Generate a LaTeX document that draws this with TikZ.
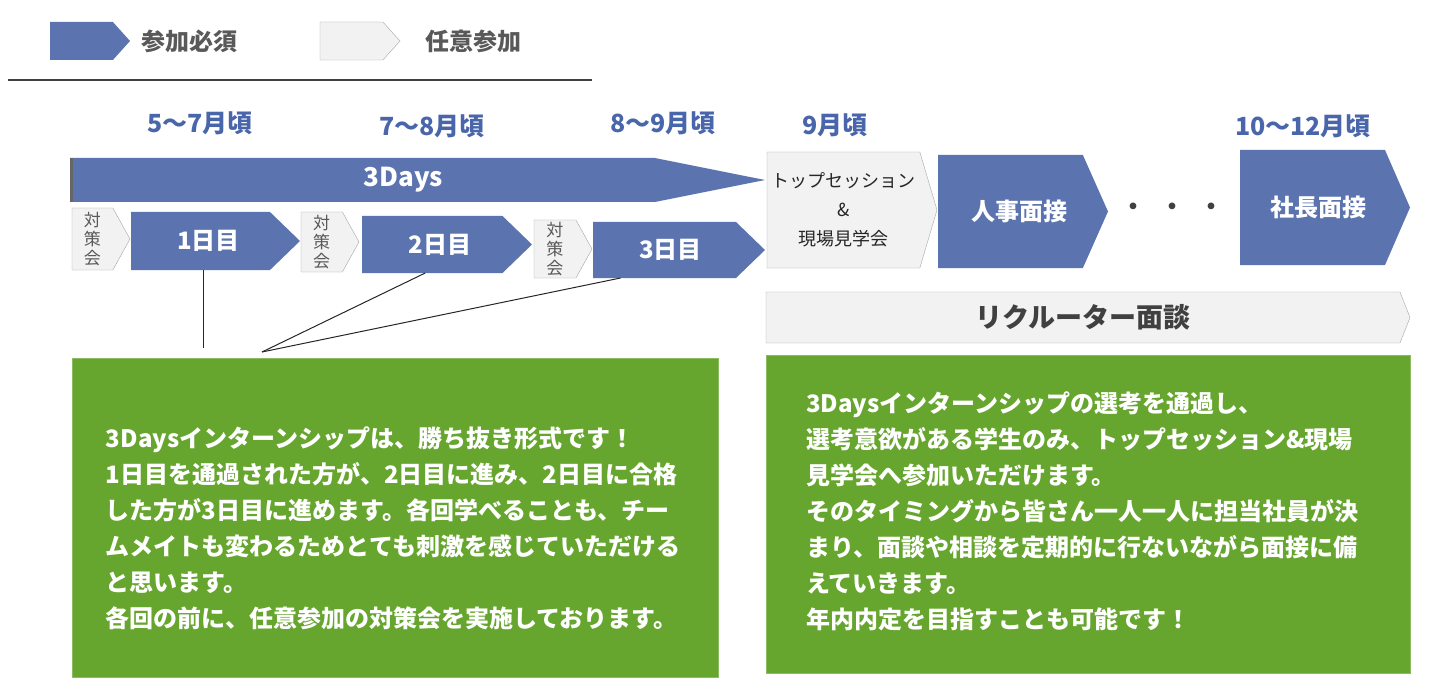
\documentclass[tikz,border=0pt]{standalone}
\usepackage{fontspec}
\setmainfont{Noto Sans CJK JP}
\usepackage{xcolor}
\usepackage{tikz}
\usetikzlibrary{shapes.symbols, positioning}

\definecolor{mustblue}{HTML}{5B73AE}
\definecolor{monthblue}{HTML}{4A66AA}
\definecolor{optgray}{HTML}{F2F2F2}
\definecolor{optline}{HTML}{A6A6A6}
\definecolor{notegreen}{HTML}{66A52E}
\definecolor{textgray}{HTML}{595959}
\definecolor{darktext}{HTML}{404040}

\begin{document}
\begin{tikzpicture}[
    x=1pt, y=-1pt,
    must/.style={signal, signal to=east, fill=mustblue, draw=none, outer sep=0pt, inner sep=0pt, text=white, anchor=west, font=\bfseries\fontsize{24}{28}\selectfont},
    optional/.style={signal, signal to=east, fill=optgray, draw=optline, outer sep=0pt, inner sep=0pt, anchor=west, text=darktext, align=center},
    prep/.style={optional, signal pointer angle=122, minimum width=58pt, text=textgray, font=\fontsize{17}{19}\selectfont},
    push/.style={execute at begin node={\hspace*{#1}}},
    legend/.style={text=textgray, anchor=west, font=\bfseries\fontsize{24}{28}\selectfont},
    month/.style={text=monthblue, font=\bfseries\fontsize{25}{28}\selectfont},
    note/.style={rectangle, fill=notegreen, draw=notegreen!75!white, line width=1pt, minimum width=646pt, minimum height=319pt},
    notetext/.style={text=white, align=left, font=\bfseries\fontsize{24}{36}\selectfont},
    link/.style={draw=black!85, line width=1pt}
]
    \useasboundingbox (0,0) rectangle (1440,679);

    % legend
    \node (keymust) [must, signal pointer angle=96, minimum width=80pt, minimum height=38pt] at (50,41) {};
    \node (keymusttext) [legend] at (138,41) {参加必須};
    \node (keyopt) [optional, signal pointer angle=96, minimum width=80pt, minimum height=38pt] at (320,41) {};
    \node (keyopttext) [legend] at (422,41) {任意参加};
    \draw [draw=darktext, line width=1.5pt] (8,80) -- (592,80);

    % months
    \node (m1) [month] at (200,123) {5〜7月頃};
    \node (m2) [month] at (432,126) {7〜8月頃};
    \node (m3) [month] at (663,123) {8〜9月頃};
    \node (m4) [month] at (835,125) {9月頃};
    \node (m5) [month] at (1303,126) {10〜12月頃};

    % 3Days band
    \node (days) [must, push=82pt, signal pointer angle=22.6, minimum width=695pt, minimum height=44pt, font=\bfseries\fontsize{26}{28}\selectfont] at (70,180) {3Days};
    \draw [draw=black!60, line width=3pt] ([xshift=1.5pt]days.north west) -- ([xshift=1.5pt]days.south west);

    % days and preparation sessions
    \node (p1) [prep, minimum height=62pt] at (72,239) {対\\策\\会};
    \node (d1) [must, push=16pt, signal pointer angle=88, minimum width=169pt, minimum height=58pt] at (131,241) {1日目};
    \node (p2) [prep, minimum height=60pt] at (301,242) {対\\策\\会};
    \node (d2) [must, push=16pt, signal pointer angle=88, minimum width=170pt, minimum height=57pt] at (362,244.5) {2日目};
    \node (p3) [prep, minimum height=58pt] at (534,249) {対\\策\\会};
    \node (d3) [must, push=12pt, signal pointer angle=88, minimum width=172pt, minimum height=56pt] at (593,250) {3日目};

    % selection
    \node (top) [optional, signal pointer angle=147, minimum width=170pt, minimum height=116pt, text=black!85, font=\fontsize{18}{29}\selectfont] at (767,210) {トップセッション\\\&\\現場見学会};
    \node (hr) [must, push=18pt, signal pointer angle=132, minimum width=170pt, minimum height=113pt] at (938,211.5) {人事面接};
    \node (dots) [text=darktext, font=\bfseries\fontsize{24}{28}\selectfont] at (1172,209) {・\hspace{15pt}・\hspace{15pt}・};
    \node (ceo) [must, push=12pt, signal pointer angle=133, minimum width=170pt, minimum height=115pt] at (1240,207.5) {社長面接};
    \node (recruit) [optional, signal pointer angle=137, minimum width=644pt, minimum height=51pt, font=\bfseries\fontsize{27}{30}\selectfont] at (766,317.5) {リクルーター面談};

    % notes
    \node (noteleft) [note] at (395,517.5) {};
    \node (notelefttext) [notetext] at (393,528) {3Daysインターンシップは、勝ち抜き形式です！\\1日目を通過された方が、2日目に進み、2日目に合格\\した方が3日目に進めます。各回学べることも、チー\\ムメイトも変わるためとても刺激を感じていただける\\と思います。\\各回の前に、任意参加の対策会を実施しております。};
    \node (noteright) [note, minimum width=644pt, minimum height=318pt] at (1088,514) {};
    \node (noterighttext) [notetext] at (1082,511) {3Daysインターンシップの選考を通過し、\\選考意欲がある学生のみ、トップセッション\&現場\\見学会へ参加いただけます。\\そのタイミングから皆さん一人一人に担当社員が決\\まり、面談や相談を定期的に行ないながら面接に備\\えていきます。\\年内内定を目指すことも可能です！};

    \coordinate (tie1) at (203,348);
    \coordinate (tie2) at (262,352);
    \draw [link] (tie1 |- d1.south) -- (tie1);
    \draw [link] ([xshift=-7pt]d2.south) -- (tie2);
    \draw [link] ([xshift=-44pt]d3.south) -- (tie2);
\end{tikzpicture}
\end{document}
